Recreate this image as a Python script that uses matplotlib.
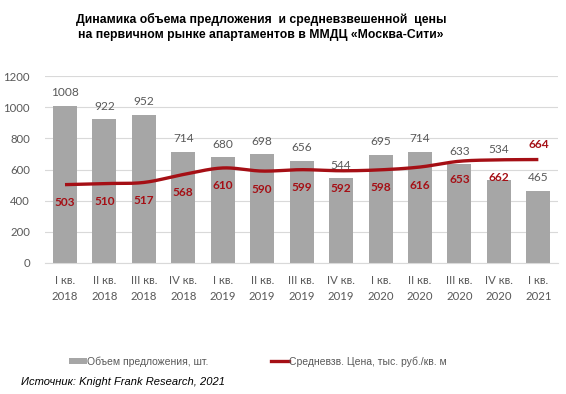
import numpy as np
import matplotlib
matplotlib.use("Agg")
import matplotlib.pyplot as plt
from matplotlib.patches import Patch
from matplotlib.lines import Line2D

categories = ["I кв.\n2018", "II кв.\n2018", "III кв.\n2018", "IV кв.\n2018",
              "I кв.\n2019", "II кв.\n2019", "III кв.\n2019", "IV кв.\n2019",
              "I кв.\n2020", "II кв.\n2020", "III кв.\n2020", "IV кв.\n2020",
              "I кв.\n2021"]
supply = [1008, 922, 952, 714, 680, 698, 656, 544, 695, 714, 633, 534, 465]
price = [503, 510, 517, 568, 610, 590, 599, 592, 598, 616, 653, 662, 664]
yticks = [0, 200, 400, 600, 800, 1000, 1200]

title = "Динамика объема предложения  и средневзвешенной  цены\nна первичном рынке апартаментов в ММДЦ «Москва-Сити»"
legend_bar = "Объем предложения, шт."
legend_line = "Средневзв. Цена, тыс. руб./кв. м"
source = "Источник: Knight Frank Research, 2021"

GRAY_TXT = "#595959"
BAR = "#A6A6A6"
RED = "#A50F15"
NUMFONT = "Lato"

fig = plt.figure(figsize=(5.66, 3.94), dpi=100)
ax = fig.add_axes([0.080, 0.3325, 0.906, 0.4745])

x = np.arange(len(categories))
ax.bar(x, supply, width=0.61, color=BAR, zorder=2)

# smoothed (Catmull-Rom) rendering of the price series
def catmull_rom(xs, ys, n=30):
    xs = np.asarray(xs, float); ys = np.asarray(ys, float)
    px = np.concatenate([[2*xs[0]-xs[1]], xs, [2*xs[-1]-xs[-2]]])
    py = np.concatenate([[2*ys[0]-ys[1]], ys, [2*ys[-1]-ys[-2]]])
    outx, outy = [], []
    for i in range(1, len(px)-2):
        t = np.linspace(0, 1, n, endpoint=False)
        for arr, out in ((px, outx), (py, outy)):
            p0, p1, p2, p3 = arr[i-1], arr[i], arr[i+1], arr[i+2]
            out.extend(0.5*((2*p1) + (-p0+p2)*t + (2*p0-5*p1+4*p2-p3)*t**2 + (-p0+3*p1-3*p2+p3)*t**3))
    outx.append(xs[-1]); outy.append(ys[-1])
    return np.array(outx), np.array(outy)

sx, sy = catmull_rom(x, price)
ax.plot(sx, sy, color=RED, lw=2.4, zorder=3, solid_capstyle="butt")

ax.set_xlim(-0.5, len(categories)-0.5)
ax.set_ylim(0, 1200)
ax.set_yticks(yticks)
ax.yaxis.grid(True, color="#D9D9D9", lw=0.8, zorder=0)
ax.set_axisbelow(True)
for s in ["top", "right", "left"]:
    ax.spines[s].set_visible(False)
ax.spines["bottom"].set_color("#D9D9D9")
ax.tick_params(axis="both", length=0, colors=GRAY_TXT)
ax.tick_params(axis="y", pad=11, labelsize=8.2)
ax.tick_params(axis="x", pad=9, labelsize=8.2)
ax.set_xticks(x)
ax.set_xticklabels(categories, linespacing=1.55)
for lab in ax.get_xticklabels() + ax.get_yticklabels():
    lab.set_fontfamily(NUMFONT)

bar_offsets = {11: 30}
for i, v in enumerate(supply):
    off = bar_offsets.get(i, 13)
    ax.annotate(str(v), (x[i], v), xytext=(0, off), textcoords="offset pixels",
                ha="center", va="center", color=GRAY_TXT, fontsize=8.6,
                family=NUMFONT, zorder=4)

price_offsets = {12: 15}
for i, v in enumerate(price):
    off = price_offsets.get(i, -18)
    ax.annotate(str(v), (x[i], v), xytext=(0, off), textcoords="offset pixels",
                ha="center", va="center", color=RED, fontsize=8.6,
                fontweight="bold", family=NUMFONT, zorder=4)

fig.text(0.461, 0.932, title, ha="center", va="center", fontsize=8.8,
         fontweight="bold", family="Liberation Sans", linespacing=1.35)

handles = [Patch(facecolor=BAR, edgecolor="none"),
           Line2D([], [], color=RED, lw=2.4)]
fig.legend(handles, [legend_bar, legend_line], loc="center left",
           bbox_to_anchor=(0.105, 0.083), ncol=2, frameon=False,
           handlelength=1.7, handletextpad=0.05, columnspacing=6.0,
           prop={"family": "Liberation Sans", "size": 7.5}, labelcolor=GRAY_TXT,
           handleheight=0.6)

fig.text(0.037, 0.03, source, ha="left", va="center", fontsize=8,
         style="italic", family="Liberation Sans")

fig.savefig("out.png", dpi=100)
